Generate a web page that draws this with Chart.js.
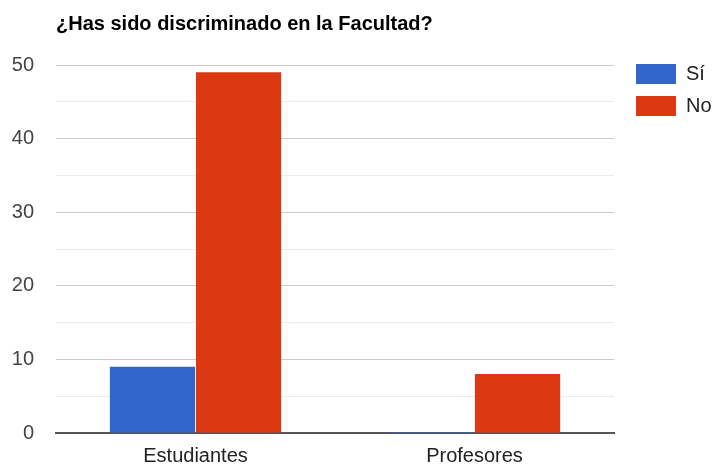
<!DOCTYPE html>
<html>
<head>
<meta charset="utf-8">
<script src="https://cdn.jsdelivr.net/npm/chart.js@4/dist/chart.umd.min.js"></script>
<style>
html,body{margin:0;padding:0;background:#fff;}
#wrap{width:712px;height:467px;position:relative;}
</style>
</head>
<body>
<div id="wrap"><canvas id="c"></canvas></div>
<script>
const categories = ["Estudiantes", "Profesores"];
const seriesSi = [9, 0];
const seriesNo = [49, 8];
const seriesNames = ["Sí", "No"];
const chartTitle = "¿Has sido discriminado en la Facultad?";

Chart.defaults.font.family = "'Liberation Sans', Arial, sans-serif";

new Chart(document.getElementById('c'), {
  type: 'bar',
  data: {
    labels: categories,
    datasets: [
      { label: seriesNames[0], data: seriesSi, backgroundColor: '#3366cc', minBarLength: 1 },
      { label: seriesNames[1], data: seriesNo, backgroundColor: '#dc3912' }
    ]
  },
  options: {
    responsive: true,
    maintainAspectRatio: false,
    animation: false,
    devicePixelRatio: 1,
    layout: { padding: 0 },
    datasets: { bar: { categoryPercentage: 0.617, barPercentage: 0.99 } },
    plugins: {
      tooltip: { enabled: false },
      title: {
        display: true,
        text: chartTitle,
        align: 'start',
        fullSize: false,
        color: '#000',
        font: { size: 20, weight: 'bold' },
        padding: { top: 12, bottom: 29 }
      },
      legend: {
        position: 'right',
        align: 'start',
        maxWidth: 88,
        title: { display: true, text: ' ', font: { size: 10 }, padding: { top: 40, bottom: 0 } },
        labels: {
          boxWidth: 40,
          boxHeight: 20,
          padding: 12,
          color: '#222',
          font: { size: 20 }
        }
      }
    },
    scales: {
      x: {
        grid: { display: false },
        border: { display: true, color: '#555', width: 2 },
        ticks: { color: '#222', font: { size: 20 }, padding: 3 },
        afterFit: s => { s.height = 32; }
      },
      y: {
        min: 0,
        max: 50,
        border: { display: false },
        grid: {
          drawTicks: false,
          color: ctx => (ctx.tick && ctx.tick.value % 10 === 0) ? '#cccccc' : '#ebebeb'
        },
        ticks: {
          stepSize: 5,
          padding: 22,
          color: '#444',
          font: { size: 20 },
          callback: v => (v % 10 === 0 ? v : '')
        },
        afterFit: s => { s.width = 56; }
      },
      y2: {
        position: 'right',
        display: true,
        grid: { display: false },
        border: { display: false },
        ticks: { display: false },
        afterFit: s => { s.width = 10; }
      }
    }
  }
});
</script>
</body>
</html>
